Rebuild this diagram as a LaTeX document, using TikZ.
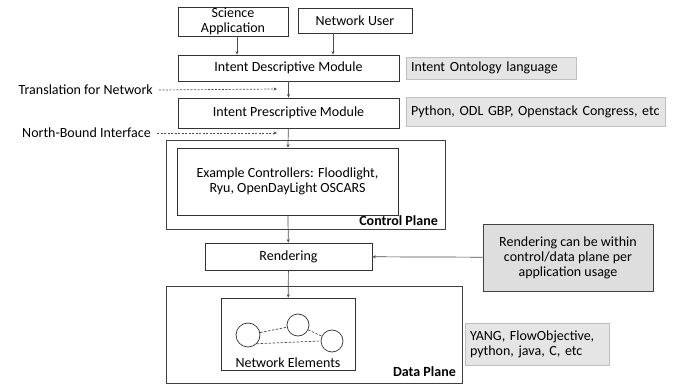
\documentclass[tikz,border=0pt]{standalone}
\usepackage{fontspec}
\setmainfont{Carlito}
\usetikzlibrary{arrows.meta}

\begin{document}
\begin{tikzpicture}[
  x=1pt, y=-1pt,
  every node/.style={font=\fontsize{14}{15}\selectfont, align=center, inner sep=0pt},
  box/.style={draw=black!80, line width=0.7pt, fill=white},
  graybox/.style={draw=black!25, line width=0.7pt, fill=black!10, inner xsep=5pt, align=left},
  notebox/.style={draw=black!75, line width=0.8pt, fill=black!13},
  plane/.style={draw=black!75, line width=0.8pt},
  arr/.style={draw=black!70, line width=0.7pt, -{Stealth[length=3.5pt,width=3pt]}},
  dasharr/.style={arr, dashed, dash pattern=on 2pt off 1.5pt}
]
\useasboundingbox (0,0) rectangle (681,385);
% Top inputs
\node[box, minimum width=110, minimum height=29] (sci) at (233,21.5) {Science\\Application};
\node[box, minimum width=114, minimum height=25] (user) at (355,20.5) {Network User};
% Intent modules
\node[box, minimum width=221, minimum height=26] (desc) at (288.5,68) {Intent Descriptive Module};
\node[graybox, minimum height=22, text width=160] (onto) at (491,68) {Intent Ontology language};
\node[box, minimum width=221, minimum height=30] (presc) at (288.5,113) {Intent Prescriptive Module};
\node[graybox, minimum height=29, text width=249] (lang) at (535.5,111.5) {\mbox{Python, ODL GBP, Openstack Congress, etc}};
% Side labels
\node[anchor=east] (trans) at (153,90) {Translation for Network};
\coordinate (transend) at (277,89);
\node[anchor=east] (nbi) at (151,133) {North-Bound Interface};
\coordinate (nbiend) at (277,133);
% Control plane
\node[plane, minimum width=279, minimum height=89] (ctrl) at (305.5,184.5) {};
\node[box, minimum width=221, minimum height=67] (contr) at (287.5,181.5) {Example Controllers: Floodlight,\\Ryu, OpenDayLight OSCARS};
\node[anchor=east, font=\fontsize{14}{15}\selectfont\bfseries] at (438,221) {Control Plane};
% Rendering
\node[box, minimum width=167, minimum height=27] (rend) at (288.5,256.5) {Rendering};
\node[notebox, minimum width=170, minimum height=67] (note) at (568,257.5) {Rendering can be within\\control/data plane per\\application usage};
% Data plane
\node[plane, minimum width=296, minimum height=97] (data) at (314,334.5) {};
\node[box, minimum width=134, minimum height=72] (elems) at (288,334) {};
\node[anchor=base] (elabel) at (288,367) {Network Elements};
\node[draw=black!80, circle, minimum size=24, line width=0.7pt] (n1) at (248,335) {};
\node[draw=black!80, circle, minimum size=22, line width=0.7pt] (n2) at (298,325) {};
\node[draw=black!80, circle, minimum size=22, line width=0.7pt] (n3) at (332,341) {};
\node[anchor=east, font=\fontsize{14}{15}\selectfont\bfseries] at (456,372) {Data Plane};
\node[graybox, minimum height=42, text width=134] (yang) at (537,344) {YANG, FlowObjective,\\python, java, C, etc};
% Connectors
\draw[arr] ([xshift=4]sci.south) -- ([xshift=4]sci.south |- desc.north);
\draw[arr] ([xshift=-22]user.south) -- ([xshift=-22]user.south |- desc.north);
\draw[arr] (desc) -- (presc);
\draw[arr] (presc) -- (contr);
\draw[arr] (contr) -- (rend);
\draw[arr] (rend) -- (elems);
\draw[arr] (note) -- (rend);
\draw[dasharr] (trans.east) ++(6,0) -- (transend);
\draw[dasharr] (nbi.east) ++(6,0) -- (nbiend);
\draw[draw=black!70, line width=0.7pt, dashed, dash pattern=on 2.5pt off 1.5pt] (n1) -- (n2) (n2) -- (n3) (n1.south east) -- (n3.west);
\end{tikzpicture}
\end{document}
